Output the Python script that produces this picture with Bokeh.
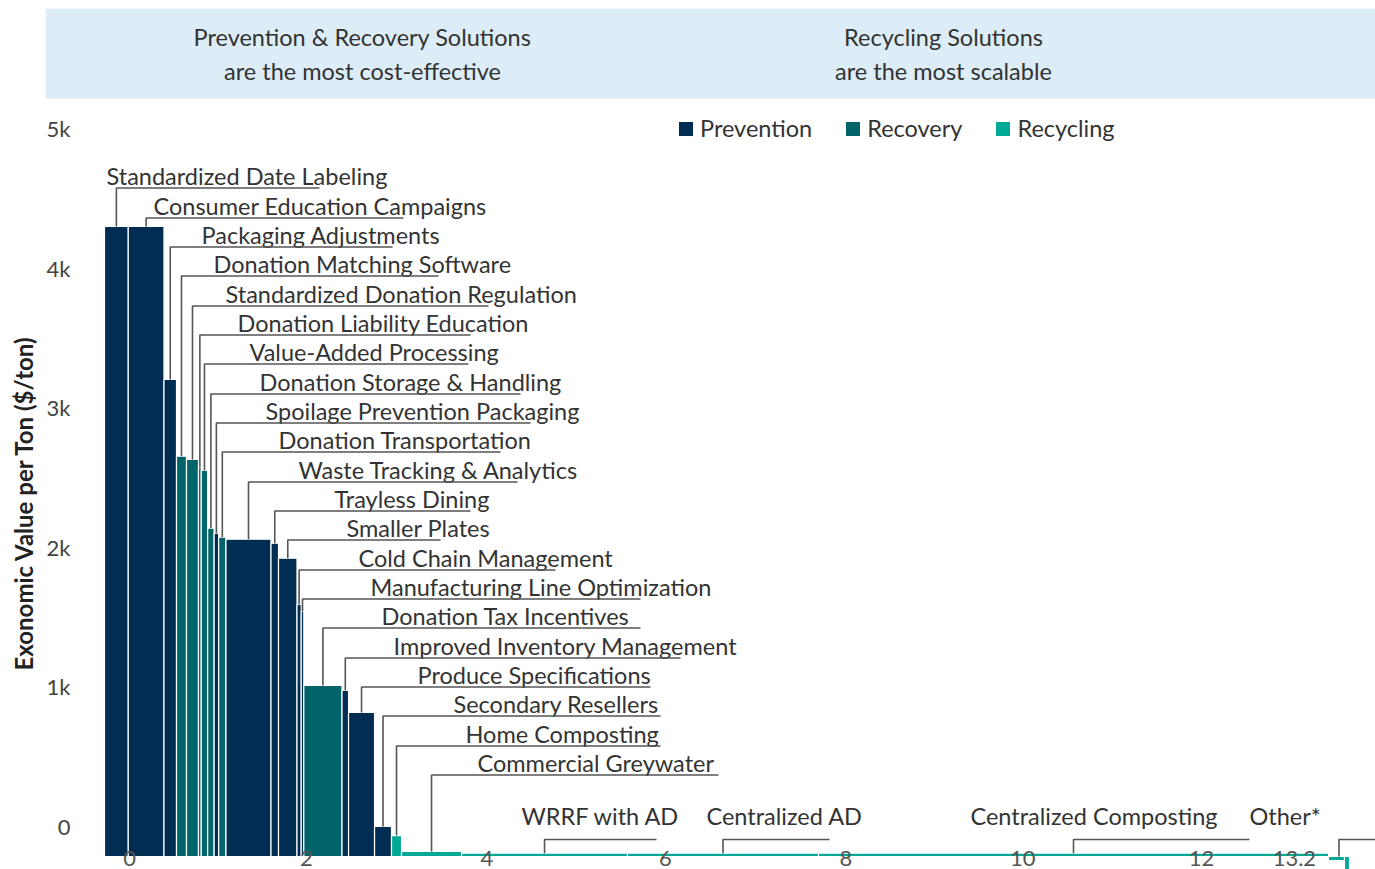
import numpy as np
from bokeh.plotting import figure
from bokeh.models import ColumnDataSource, Range1d, FixedTicker, BoxAnnotation, Label, Title
from bokeh.embed import file_html
from bokeh.resources import INLINE
from bokeh.core.properties import value

# ---------------- data ----------------
SOLUTIONS = [
    "Standardized Date Labeling", "Consumer Education Campaigns", "Packaging Adjustments",
    "Donation Matching Software", "Standardized Donation Regulation", "Donation Liability Education",
    "Value-Added Processing", "Donation Storage & Handling", "Spoilage Prevention Packaging",
    "Donation Transportation", "Waste Tracking & Analytics", "Trayless Dining", "Smaller Plates",
    "Cold Chain Management", "Manufacturing Line Optimization", "Donation Tax Incentives",
    "Improved Inventory Management", "Produce Specifications", "Secondary Resellers",
    "Home Composting", "Commercial Greywater", "WRRF with AD", "Centralized AD",
    "Centralized Composting", "Other*", "Other*",
]
CATEGORY = [
    "Prevention", "Prevention", "Prevention", "Recovery", "Recovery", "Recovery",
    "Recovery", "Recovery", "Prevention", "Recovery", "Prevention", "Prevention", "Prevention",
    "Prevention", "Prevention", "Recovery", "Prevention", "Prevention", "Prevention",
    "Recycling", "Recycling", "Recycling", "Recycling", "Recycling", "Recycling", "Recycling",
]
# diversion potential (million tons) = bar widths
TONS = [0.266, 0.400, 0.140, 0.112, 0.134, 0.031, 0.072, 0.072, 0.051, 0.082, 0.504, 0.084,
        0.207, 0.047, 0.029, 0.428, 0.073, 0.291, 0.190, 0.112, 0.672, 1.858, 2.138, 5.709,
        0.179, 0.056]
# economic value per ton ($/ton) = bar heights
VALUE = [4513, 4513, 3417, 2868, 2844, 2787, 2765, 2352, 2316, 2287, 2273, 2244, 2137,
         1805, 1757, 1225, 1189, 1032, 215, 150, 36, 24, 24, 24, -29, -130]

X_TICK_LABELS = ["0", "2", "4", "6", "8", "10", "12", "13.2"]
Y_TICK_LABELS = ["0", "1k", "2k", "3k", "4k", "5k"]
Y_TITLE = "Exonomic Value per Ton ($/ton)"

# ---------------- style / layout ----------------
COLORS = {"Prevention": "#022d53", "Recovery": "#00646a", "Recycling": "#00a896"}
FONT = "Lato"
FS = "23.5px"
TEXT = "#333333"
LINE = "#555555"
BANNER = "#dcedf8"

W, H = 1375, 869
FRAME_LEFT, FRAME_TOP = 45, 8
X0_PX, X_SCALE = 104.0, 89.33      # px of x=0, px per million tons
Y0_PX, Y_SCALE = 856.0, 0.1396     # px of y=0, px per $/ton


def xd(px):
    return (px - X0_PX) / X_SCALE


def yd(py):
    return (Y0_PX - py) / Y_SCALE


# tick label positions (labels sit offset from the bars in the original)
X_TICK_POS = [0.28, 2.26, 4.28, 6.28, 8.30, 10.28, 12.28, 13.32]
Y_TICK_POS = [215, 1215, 2215, 3215, 4215, 5215]

# stacked callout labels (first 21 solutions)
STACK_TEXT_LEFT_PX = [106, 153, 201, 213, 225, 237, 249, 259, 265, 278, 298, 334, 346, 358,
                      370, 381, 393, 417, 453, 465, 477]
STACK_ROW_PX = [175, 205, 234, 263, 293, 322, 351, 381, 410, 439, 469, 498, 527, 557, 586,
                615, 645, 674, 703, 733, 762]
STACK_LINE_END_PX = [319, 403, 392, 438, 488, 470, 468, 520, 530, 500, 517, 470, 440, 555,
                     640, 640, 680, 650, 660, 660, 718]

# bottom callouts (recycling solutions)
BOTTOM_NAMES = ["WRRF with AD", "Centralized AD", "Centralized Composting", "Other*"]
BOTTOM_BARS = [[21], [22], [23], [24, 25]]
BOTTOM_TEXT_LEFT_PX = [521, 706, 970, 1249]
BOTTOM_LINE_END_PX = [656, 829, 1249, 1380]
BOTTOM_TEXT_ROW_PX = 815
BOTTOM_LINE_ROW_PX = 839

# ---------------- geometry from data ----------------
tons = np.array(TONS)
vals = np.array(VALUE, dtype=float)
right = np.cumsum(tons)
left = right - tons
mid = (left + right) / 2

src = ColumnDataSource(dict(
    left=left, right=right,
    top=np.maximum(vals, 0), bottom=np.minimum(vals, 0),
    color=[COLORS[c] for c in CATEGORY], category=CATEGORY, name=SOLUTIONS,
))

p = figure(
    width=W, height=H,
    x_range=Range1d(xd(FRAME_LEFT), xd(W)), y_range=Range1d(yd(H), yd(FRAME_TOP)),
    output_backend="svg", toolbar_location=None,
    min_border_left=FRAME_LEFT, min_border_right=0, min_border_top=FRAME_TOP,
    min_border_bottom=0,
    background_fill_color="white", border_fill_color="white",
)
p.outline_line_color = None
p.grid.visible = False

# banner
p.add_layout(BoxAnnotation(bottom=yd(98), fill_color=BANNER, fill_alpha=1.0,
                           line_alpha=0, level="underlay"))
for txt, xpx, ypx in [("Prevention & Recovery Solutions", 362, 36),
                      ("are the most cost-effective", 362, 70),
                      ("Recycling Solutions", 943, 36),
                      ("are the most scalable", 943, 70)]:
    p.add_layout(Label(x=xd(xpx), y=yd(ypx), text=txt, text_align="center",
                       text_baseline="middle", text_font=FONT, text_font_size=FS,
                       text_color=TEXT))

# bars
p.quad(left="left", right="right", top="top", bottom="bottom", source=src,
       fill_color="color", line_color="white", line_width=1.2, legend_field="category")

# stacked callouts
n_stack = len(STACK_ROW_PX)
lab_src = ColumnDataSource(dict(
    x=[xd(v) for v in STACK_TEXT_LEFT_PX],
    y=[yd(v) for v in STACK_ROW_PX],
    text=SOLUTIONS[:n_stack],
))
p.text(x="x", y="y", text="text", source=lab_src, text_font=value(FONT),
       text_font_size=FS, text_baseline="middle", text_align="left", text_color=TEXT)
xs, ys = [], []
for i in range(n_stack):
    ly = yd(STACK_ROW_PX[i] + 12.5)
    xs.append([mid[i], mid[i], xd(STACK_LINE_END_PX[i])])
    ys.append([vals[i], ly, ly])

# bottom callouts
bx, by, bt = [], [], []
for name, bars, tl, le in zip(BOTTOM_NAMES, BOTTOM_BARS, BOTTOM_TEXT_LEFT_PX, BOTTOM_LINE_END_PX):
    cx = (left[bars[0]] + right[bars[-1]]) / 2
    top_v = max(0.0, max(vals[b] for b in bars))
    ly = yd(BOTTOM_LINE_ROW_PX)
    xs.append([cx, cx, xd(le)])
    ys.append([top_v, ly, ly])
    bx.append(xd(tl)); by.append(yd(BOTTOM_TEXT_ROW_PX)); bt.append(name)
p.text(x=bx, y=by, text=bt, text_font=value(FONT), text_font_size=FS,
       text_baseline="middle", text_align="left", text_color=TEXT)
p.multi_line(xs=xs, ys=ys, line_color=LINE, line_width=1.6)

# axes
xa = p.xaxis[0]
xa.fixed_location = 0
xa.ticker = FixedTicker(ticks=X_TICK_POS)
xa.major_label_overrides = {t: l for t, l in zip(X_TICK_POS, X_TICK_LABELS)}
xa.axis_line_color = None
xa.major_tick_line_color = None
xa.minor_tick_line_color = None
xa.major_tick_out = 0
xa.major_label_standoff = -6
xa.major_label_text_font = FONT
xa.major_label_text_font_size = "22px"
xa.major_label_text_color = "#555555"

ya = p.yaxis[0]
ya.fixed_location = xd(74)
ya.ticker = FixedTicker(ticks=Y_TICK_POS)
ya.major_label_overrides = {t: l for t, l in zip(Y_TICK_POS, Y_TICK_LABELS)}
ya.axis_line_color = None
ya.major_tick_line_color = None
ya.minor_tick_line_color = None
ya.major_tick_out = 0
ya.major_label_standoff = 4
ya.major_label_text_font = FONT
ya.major_label_text_font_size = "22px"
ya.major_label_text_color = "#444444"

# y-axis title, as a side title in the left border
p.add_layout(Title(text=Y_TITLE, align="left", offset=H - 670, vertical_align="middle",
                   standoff=14, text_font=FONT, text_font_style="bold",
                   text_font_size="24px", text_color="#222222"), "left")

# legend
lg = p.legend[0]
lg.orientation = "horizontal"
lg.location = (631, 727)
lg.padding = 0
lg.margin = 0
lg.spacing = 31
lg.glyph_width = 19
lg.glyph_height = 19
lg.label_standoff = 5
lg.label_text_font = FONT
lg.label_text_font_size = FS
lg.label_text_color = TEXT
lg.border_line_color = None
lg.background_fill_alpha = 0

open("out.html", "w").write(file_html(p, INLINE))
